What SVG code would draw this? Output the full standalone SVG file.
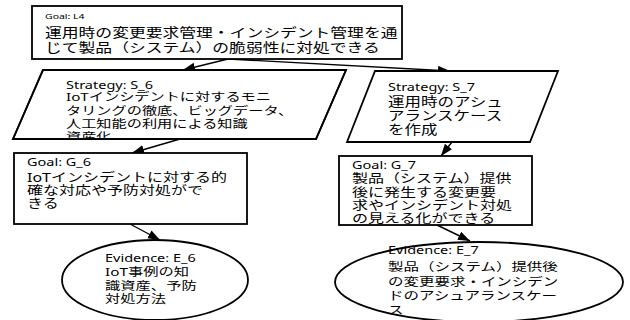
<svg xmlns="http://www.w3.org/2000/svg" width="630" height="320" viewBox="0 0 630 320">
<style>
.box{fill:#fff;stroke:#000;stroke-width:1.8}
.c{fill:none;stroke:#000;stroke-width:1.4}
text{font-family:"Noto Sans","Noto Sans CJK JP",sans-serif;fill:#000}
.lb{font-size:14.5px}
</style>
<defs>
<marker id="ah" markerUnits="userSpaceOnUse" markerWidth="13" markerHeight="10" refX="12" refY="4.5" orient="auto"><path d="M0,0 L12,4.5 L0,9 z" fill="#000"/></marker>
<clipPath id="cs6"><polygon points="43,70 346,70 316,139 13,139"/></clipPath>
</defs>
<rect width="630" height="320" fill="#fff"/>
<g id="connectors">
<line class="c" x1="228" y1="59" x2="183" y2="70" marker-end="url(#ah)"/>
<line class="c" x1="228" y1="59" x2="450" y2="71" marker-end="url(#ah)"/>
<line class="c" x1="180" y1="139" x2="132" y2="153" marker-end="url(#ah)"/>
<line class="c" x1="452" y1="142" x2="441" y2="156" marker-end="url(#ah)"/>
<line class="c" x1="130" y1="224" x2="160" y2="240" marker-end="url(#ah)"/>
<line class="c" x1="437" y1="225" x2="470" y2="241" marker-end="url(#ah)"/>
</g>
<g id="L4">
<rect class="box" x="32" y="6" width="370" height="53"/>
<text font-size="10.5" transform="matrix(1 0 0 .76 45 18.9)">Goal: L4</text>
<text font-size="16.8" transform="matrix(1 0 0 .76 45 36.9)">運用時の変更要求管理・インシデント管理を通</text>
<text font-size="16.8" transform="matrix(1 0 0 .76 45 51.9)">じて製品（システム）の脆弱性に対処できる</text>
</g>
<g id="S_6">
<polygon class="box" points="43,70 346,70 316,139 13,139"/>
<g clip-path="url(#cs6)">
<text class="lb" transform="matrix(1 0 0 .76 66 89)">Strategy: S_6</text>
<text font-size="15.2" transform="matrix(1 0 0 .76 66 101.4)">IoTインシデントに対するモニ</text>
<text font-size="15.2" transform="matrix(1 0 0 .76 66 115.4)">タリングの徹底、ビッグデータ、</text>
<text font-size="15.2" transform="matrix(1 0 0 .76 66 128.4)">人工知能の利用による知識</text>
<text font-size="15.2" transform="matrix(1 0 0 .76 66 141.4)">資産化.</text>
</g>
<polygon fill="none" stroke="#000" stroke-width="1.8" points="43,70 346,70 316,139 13,139"/>
</g>
<g id="S_7">
<polygon class="box" points="375,71 558,71 530,142 347,142"/>
<text class="lb" transform="matrix(1 0 0 .76 388 91)">Strategy: S_7</text>
<text font-size="16.5" transform="matrix(1 0 0 .76 388 106.3)">運用時のアシュ</text>
<text font-size="16.5" transform="matrix(1 0 0 .76 388 120.3)">アランスケース</text>
<text font-size="16.5" transform="matrix(1 0 0 .76 388 133.8)">を作成</text>
</g>
<g id="G_6">
<rect class="box" x="14" y="153" width="233" height="71"/>
<text class="lb" transform="matrix(1 0 0 .76 27 166)">Goal: G_6</text>
<text font-size="16" transform="matrix(1 0 0 .76 27 181.6)">IoTインシデントに対する的</text>
<text font-size="16" transform="matrix(1 0 0 .76 27 194.6)">確な対応や予防対処がで</text>
<text font-size="16" transform="matrix(1 0 0 .76 27 207.6)">きる</text>
</g>
<g id="G_7">
<rect class="box" x="339" y="156" width="193" height="69"/>
<text class="lb" transform="matrix(1 0 0 .76 352 169)">Goal: G_7</text>
<text font-size="16" transform="matrix(1 0 0 .76 352 183.1)">製品（システム）提供</text>
<text font-size="16" transform="matrix(1 0 0 .76 352 196.6)">後に発生する変更要</text>
<text font-size="16" transform="matrix(1 0 0 .76 352 209.6)">求やインシデント対処</text>
<text font-size="16" transform="matrix(1 0 0 .76 352 222.6)">の見える化ができる</text>
</g>
<g id="E_6">
<ellipse class="box" cx="155" cy="280" rx="93" ry="40"/>
<text class="lb" transform="matrix(1 0 0 .76 105 262)">Evidence: E_6</text>
<text font-size="15.3" transform="matrix(1 0 0 .76 105 276.4)">IoT事例の知</text>
<text font-size="15.3" transform="matrix(1 0 0 .76 105 289.9)">識資産、予防</text>
<text font-size="15.3" transform="matrix(1 0 0 .76 105 303.4)">対処方法</text>
</g>
<g id="E_7">
<ellipse class="box" cx="479" cy="282" rx="144" ry="40"/>
<text class="lb" transform="matrix(1 0 0 .76 388 254)">Evidence: E_7</text>
<text font-size="15.5" transform="matrix(1 0 0 .76 388 271)">製品（システム）提供後</text>
<text font-size="15.5" transform="matrix(1 0 0 .76 388 285.5)">の変更要求・インシデン</text>
<text font-size="15.5" transform="matrix(1 0 0 .76 388 299.5)">ドのアシュアランスケー</text>
<text font-size="15.5" transform="matrix(1 0 0 .76 388 313.5)">ス</text>
</g>
</svg>
